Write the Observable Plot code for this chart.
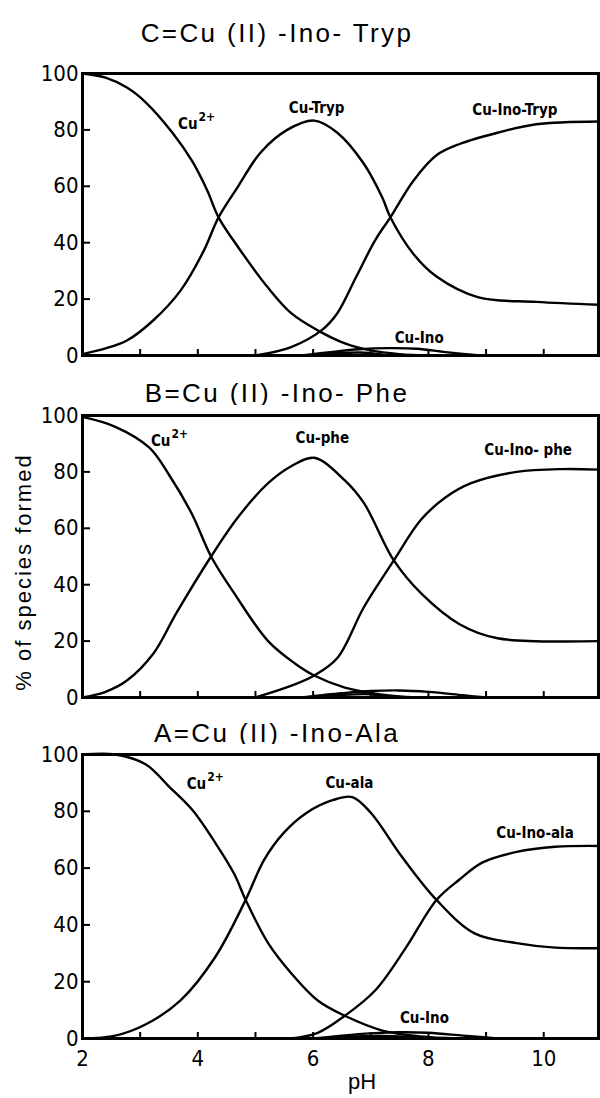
<!DOCTYPE html>
<html><head><meta charset="utf-8">
<script src="https://cdn.jsdelivr.net/npm/d3@7"></script>
<script src="https://cdn.jsdelivr.net/npm/@observablehq/plot@0.6"></script>
<style>
body{margin:0;background:#fff;}
#wrap{position:relative;width:600px;height:1098px;overflow:hidden;background:#fff;font-family:"Liberation Sans","DejaVu Sans",sans-serif;color:#000;}
.title{position:absolute;font-size:26px;line-height:26px;letter-spacing:2.4px;white-space:nowrap;transform:translateX(-50%);}
.panel{position:absolute;left:0;}
#ylab{position:absolute;left:24px;top:572px;font-size:22px;letter-spacing:2px;white-space:nowrap;transform:translate(-50%,-50%) rotate(-90deg);}
#xlab{position:absolute;left:362px;top:1082px;font-size:22px;transform:translate(-50%,-50%);}
</style></head>
<body><div id="wrap"></div>
<script>
// ---- data (pH, % of species formed) ----
const yTicks = [0, 20, 40, 60, 80, 100];
const xTickMarks = [3, 4, 5, 6, 7, 8, 9, 10];
const xTickLabels = [2, 4, 6, 8, 10];

// C = Cu(II)-Ino-Tryp
const C_cu_pH = [2, 2.4, 2.77, 3.1, 3.56, 3.9, 4.16, 4.36, 4.7, 5.22, 5.62, 6.08, 6.55, 7.0, 7.5, 8.0];
const C_cu    = [100, 98.5, 95, 89.7, 79, 69, 58.7, 49, 38.4, 24, 15, 8.9, 4.3, 1.8, 0.5, 0];
const C_lig_pH = [2, 2.4, 2.77, 3.23, 3.7, 4.1, 4.36, 4.7, 5.09, 5.55, 6.02, 6.42, 6.88, 7.2, 7.34, 7.74, 8.14, 8.87, 9.87, 10.95];
const C_lig    = [0.5, 2.5, 5.3, 12.5, 23, 37, 49, 60, 72, 80, 83.3, 79, 68, 56, 49, 36, 28, 20.6, 19, 18];
const C_ter_pH = [5.0, 5.62, 6.15, 6.42, 6.75, 7.08, 7.34, 7.74, 8.14, 8.54, 9.2, 9.87, 10.95];
const C_ter    = [0, 3, 9, 15, 28, 41, 49, 62, 71, 75, 79, 82, 83];
const C_ino_pH = [5.8, 6.3, 6.8, 7.3, 7.8, 8.3, 8.9];
const C_ino    = [0, 1.2, 2.2, 2.6, 2.4, 1.2, 0];
const C_ino2_pH = [5.9, 6.4, 6.9, 7.3];
const C_ino2    = [0, 0.8, 1.0, 0];

// B = Cu(II)-Ino-Phe
const B_cu_pH = [2, 2.57, 3.16, 3.5, 3.9, 4.23, 4.63, 5.22, 5.69, 6.02, 6.55, 7.2, 7.8];
const B_cu    = [99.5, 96, 88.6, 79, 65, 50, 37, 20, 12, 7.8, 3.5, 1, 0];
const B_lig_pH = [2, 2.4, 2.77, 3.23, 3.63, 4.23, 4.7, 5.22, 5.62, 6.02, 6.55, 6.88, 7.4, 7.87, 8.54, 9.2, 10.95];
const B_lig    = [0, 2, 6, 15.6, 30, 50, 64, 76, 82, 85, 77, 69, 48.6, 37, 26, 21, 20];
const B_ter_pH = [5.0, 5.6, 6.02, 6.42, 6.88, 7.4, 7.87, 8.3, 8.74, 9.53, 10.33, 10.95];
const B_ter    = [0, 4, 7.8, 14, 32, 48.6, 63, 71, 76, 80, 81, 80.8];
const B_ino_pH = [5.8, 6.5, 7.0, 7.5, 8.0, 8.6, 9.0];
const B_ino    = [0, 1.5, 2.3, 2.5, 2.0, 0.8, 0];
const B_ino2_pH = [6.0, 6.5, 7.0, 7.3];
const B_ino2    = [0, 0.9, 1.1, 0];

// A = Cu(II)-Ino-Ala
const A_cu_pH = [2, 2.57, 3.1, 3.5, 3.9, 4.3, 4.63, 4.83, 5.22, 5.62, 6.08, 6.55, 7.2, 7.87, 8.5];
const A_cu    = [100, 100, 96.5, 88.7, 80.6, 69, 58, 48.8, 33.6, 23, 13.4, 8, 2.8, 0.7, 0];
const A_lig_pH = [2, 2.57, 3.1, 3.7, 4.3, 4.83, 5.15, 5.49, 5.89, 6.35, 6.68, 7.0, 7.54, 8.14, 8.8, 9.53, 10.2, 10.95];
const A_lig    = [0, 1, 5, 13.4, 28.6, 48.8, 62.9, 72.4, 79.5, 84, 85, 79.5, 64, 48.8, 37, 33.6, 32, 31.8];
const A_ter_pH = [5.62, 6.08, 6.55, 7.08, 7.61, 8.14, 8.54, 8.94, 9.53, 10.2, 10.95];
const A_ter    = [0, 2, 8, 17, 32, 48.8, 56, 62, 65.7, 67.5, 67.8];
const A_ino_pH = [6.0, 6.5, 7.0, 7.5, 8.0, 8.6, 9.2];
const A_ino    = [0, 1, 1.8, 2.2, 2.0, 1, 0];
const A_ino2_pH = [6.2, 6.7, 7.2, 7.7, 8.1];
const A_ino2    = [0, 0.7, 0.9, 0.5, 0];

// species labels: text, superscript, pH, %
const C_lab_text = ["Cu", "Cu-Tryp", "Cu-Ino-Tryp", "Cu-Ino"];
const C_lab_sup  = ["2+", "", "", ""];
const C_lab_pH   = [3.96, 6.06, 9.5, 7.84];
const C_lab_v    = [82, 87.6, 87, 6];
const B_lab_text = ["Cu", "Cu-phe", "Cu-Ino- phe"];
const B_lab_sup  = ["2+", "", ""];
const B_lab_pH   = [3.49, 6.16, 9.73];
const B_lab_v    = [91, 92, 87.6];
const A_lab_text = ["Cu", "Cu-ala", "Cu-Ino-ala", "Cu-Ino"];
const A_lab_sup  = ["2+", "", "", ""];
const A_lab_pH   = [4.11, 6.63, 9.85, 7.93];
const A_lab_v    = [89.4, 90, 72.4, 7];

const titles = ["C=Cu (II) -Ino- Tryp", "B=Cu (II) -Ino- Phe", "A=Cu (II) -Ino-Ala"];

// ---- build ----
const rows = (px, vs) => px.map((p, i) => ({pH: p, v: vs[i]}));
const labs = (t, sup, px, vs) => t.map((s, i) => ({s, sup: sup[i], pH: px[i], v: vs[i]}));

function panel(series, labels, bottom) {
  const marks = series.map(([px, vs]) => Plot.line(rows(px, vs), {x: "pH", y: "v", curve: "catmull-rom", strokeWidth: 2.4, stroke: "#000"}));
  const plain = labels.filter(d => !d.sup), supd = labels.filter(d => d.sup);
  const lf = {fontWeight: "bold", fill: "#000", style: "letter-spacing:1.5px"};
  marks.push(Plot.text(plain, {x: "pH", y: "v", text: "s", fontSize: 15, ...lf}));
  marks.push(Plot.text(supd, {x: "pH", y: "v", text: "s", fontSize: 15, textAnchor: "end", dx: 2, ...lf}));
  marks.push(Plot.text(supd, {x: "pH", y: "v", text: "sup", fontSize: 12, textAnchor: "start", dx: 3, dy: -7, ...lf}));
  marks.push(Plot.frame({strokeWidth: 3, stroke: "#000"}));
  marks.push(Plot.axisY({ticks: yTicks, tickSize: -8, tickPadding: 12, strokeWidth: 2, label: null}));
  marks.push(Plot.axisX({ticks: xTickMarks, tickSize: -6, strokeWidth: 2, tickFormat: () => "", label: null}));
  if (bottom) marks.push(Plot.axisX({ticks: xTickLabels, tickSize: 0, tickPadding: 12, label: null}));
  return Plot.plot({
    width: 600,
    height: bottom ? 354 : 300,
    marginLeft: 82, marginRight: 2, marginTop: 10, marginBottom: bottom ? 60 : 8,
    x: {domain: [2, 10.95], label: null},
    y: {domain: [0, 100], label: null},
    style: {fontFamily: "'Liberation Sans Narrow','DejaVu Sans Condensed','Liberation Sans',sans-serif", fontSize: "22px", color: "#000", background: "#fff", overflow: "visible"},
    marks
  });
}

const wrap = document.getElementById("wrap");
const specs = [
  {top: 63, titleTop: 20, series: [[C_cu_pH, C_cu], [C_lig_pH, C_lig], [C_ter_pH, C_ter], [C_ino_pH, C_ino], [C_ino2_pH, C_ino2]], labels: labs(C_lab_text, C_lab_sup, C_lab_pH, C_lab_v)},
  {top: 405, titleTop: 380, series: [[B_cu_pH, B_cu], [B_lig_pH, B_lig], [B_ter_pH, B_ter], [B_ino_pH, B_ino], [B_ino2_pH, B_ino2]], labels: labs(B_lab_text, B_lab_sup, B_lab_pH, B_lab_v)},
  {top: 744, titleTop: 720, series: [[A_cu_pH, A_cu], [A_lig_pH, A_lig], [A_ter_pH, A_ter], [A_ino_pH, A_ino], [A_ino2_pH, A_ino2]], labels: labs(A_lab_text, A_lab_sup, A_lab_pH, A_lab_v)}
];
specs.forEach((s, i) => {
  const t = document.createElement("div");
  t.className = "title"; t.textContent = titles[i];
  t.style.left = "277px"; t.style.top = s.titleTop + "px";
  wrap.appendChild(t);
  const p = panel(s.series, s.labels, i === 2);
  p.classList.add("panel"); p.style.top = s.top + "px"; p.style.position = "absolute";
  wrap.appendChild(p);
});
const yl = document.createElement("div"); yl.id = "ylab"; yl.textContent = "% of species formed"; wrap.appendChild(yl);
const xl = document.createElement("div"); xl.id = "xlab"; xl.textContent = "pH"; wrap.appendChild(xl);
</script>
</body></html>
